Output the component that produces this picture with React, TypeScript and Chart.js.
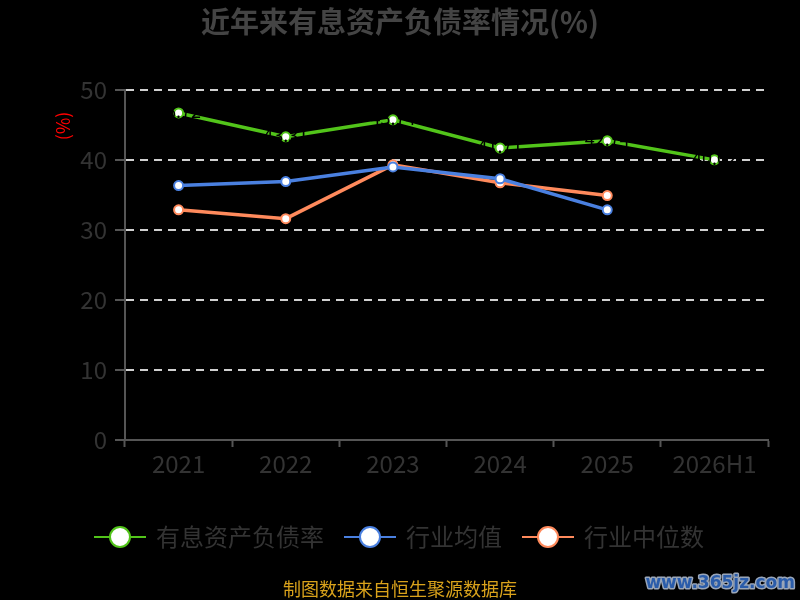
import React, { useEffect, useRef } from 'react';
import { Chart, registerables } from 'chart.js';

Chart.register(...registerables);

const FONT = '"Noto Sans CJK SC", "Microsoft YaHei", sans-serif';

const categories = ['2021', '2022', '2023', '2024', '2025', '2026H1'];
const debtRatio = [46.72, 43.31, 45.74, 41.71, 42.74, 40.02];
const industryMean = [36.35, 36.92, 39.01, 37.32, 32.88, null];
const industryMedian = [32.89, 31.62, 39.31, 36.74, 34.92, null];
const seriesNames = ['有息资产负债率', '行业均值', '行业中位数'];
const seriesColors = ['#52c41a', '#4a80e0', '#ff8a5c'];
const yMin = 0;
const yMax = 50;
const yStep = 10;
const titleText = '近年来有息资产负债率情况(%)';
const yUnitText = '(%)';
const footerText = '制图数据来自恒生聚源数据库';
const watermarkText = 'www.365jz.com';

function makeLegendIcon(color: string): HTMLCanvasElement {
  const c = document.createElement('canvas');
  c.width = 52;
  c.height = 26;
  const g = c.getContext('2d')!;
  g.strokeStyle = color;
  g.lineWidth = 2;
  g.beginPath();
  g.moveTo(0, 13);
  g.lineTo(52, 13);
  g.stroke();
  g.beginPath();
  g.arc(26, 13, 10, 0, Math.PI * 2);
  g.fillStyle = '#ffffff';
  g.fill();
  g.lineWidth = 2;
  g.stroke();
  return c;
}

const decorPlugin = {
  id: 'decor',
  beforeDraw(chart: any) {
    const { ctx, width, height } = chart;
    ctx.save();
    ctx.fillStyle = '#000000';
    ctx.fillRect(0, 0, width, height);
    ctx.restore();
  },
  afterDatasetsDraw(chart: any) {
    const { ctx } = chart;
    const meta = chart.getDatasetMeta(0);
    ctx.save();
    ctx.font = `18px ${FONT}`;
    ctx.fillStyle = '#000000';
    ctx.textAlign = 'center';
    ctx.textBaseline = 'middle';
    meta.data.forEach((pt: any, i: number) => {
      const v = debtRatio[i];
      if (v == null) return;
      ctx.fillText(v.toFixed(2), pt.x, pt.y - 2);
    });
    ctx.restore();
  },
  afterDraw(chart: any) {
    const { ctx } = chart;
    ctx.save();
    ctx.font = `bold 29px ${FONT}`;
    ctx.fillStyle = '#444444';
    ctx.textAlign = 'center';
    ctx.textBaseline = 'middle';
    ctx.fillText(titleText, 400, 22);
    ctx.save();
    ctx.translate(63, 126);
    ctx.rotate(-Math.PI / 2);
    ctx.font = `18px ${FONT}`;
    ctx.fillStyle = '#ff0000';
    ctx.fillText(yUnitText, 0, 0);
    ctx.restore();
    ctx.font = `18px ${FONT}`;
    ctx.fillStyle = '#d9a21b';
    ctx.fillText(footerText, 400, 589);
    ctx.font = `bold 17px "DejaVu Sans", sans-serif`;
    ctx.textAlign = 'right';
    ctx.lineJoin = 'round';
    ctx.lineWidth = 3;
    ctx.strokeStyle = '#9aa6b8';
    ctx.strokeText(watermarkText, 795, 584);
    ctx.fillStyle = '#2a5caa';
    ctx.fillText(watermarkText, 795, 584);
    ctx.restore();
  },
};

export default function App() {
  const canvasRef = useRef<HTMLCanvasElement | null>(null);

  useEffect(() => {
    document.body.style.margin = '0';
    document.body.style.background = '#000';
    const canvas = canvasRef.current;
    if (!canvas) return;
    const icons = seriesColors.map((c) => makeLegendIcon(c));
    const seriesData = [debtRatio, industryMean, industryMedian];

    const chart = new Chart(canvas, {
      type: 'line',
      data: {
        labels: categories,
        datasets: seriesData.map((d, i) => ({
          label: seriesNames[i],
          data: d,
          borderColor: seriesColors[i],
          backgroundColor: '#ffffff',
          borderWidth: 3.5,
          pointRadius: 4.5,
          pointHoverRadius: 4.5,
          pointBorderWidth: 2,
          pointBackgroundColor: '#ffffff',
          pointBorderColor: seriesColors[i],
          tension: 0,
          spanGaps: false,
          yAxisID: 'y',
        })),
      },
      options: {
        responsive: false,
        animation: false,
        devicePixelRatio: 1,
        layout: { padding: { top: 90, left: 0, right: 0, bottom: 41 } },
        plugins: {
          title: { display: false },
          tooltip: { enabled: false },
          legend: {
            display: true,
            position: 'bottom',
            labels: {
              usePointStyle: true,
              pointStyleWidth: 48,
              boxHeight: 24,
              padding: 22,
              color: '#333333',
              font: { size: 24, family: FONT },
              generateLabels: (ch: any) =>
                ch.data.datasets.map((ds: any, i: number) => ({
                  text: ds.label,
                  pointStyle: icons[i],
                  fillStyle: '#ffffff',
                  strokeStyle: seriesColors[i],
                  lineWidth: 0,
                  hidden: false,
                  datasetIndex: i,
                  fontColor: '#333333',
                })),
            },
          },
        },
        scales: {
          x: {
            type: 'category',
            offset: true,
            grid: {
              display: true,
              offset: true,
              drawOnChartArea: false,
              drawTicks: true,
              tickLength: 7,
              tickColor: '#555555',
              tickWidth: 2,
            },
            border: { display: true, color: '#555555', width: 2 },
            ticks: {
              color: '#333333',
              font: { size: 24, family: FONT },
              padding: 2,
              maxRotation: 0,
              autoSkip: false,
            },
            afterFit: (s: any) => {
              s.height = 63;
            },
          },
          y: {
            type: 'linear',
            position: 'left',
            min: yMin,
            max: yMax,
            ticks: {
              stepSize: yStep,
              color: '#333333',
              font: { size: 24, family: FONT },
              padding: 8,
            },
            grid: {
              color: (c: any) => (c.tick && c.tick.value === 0 ? 'rgba(0,0,0,0)' : '#d0d0d0'),
              lineWidth: 2,
              drawTicks: true,
              tickLength: 10,
              tickColor: '#555555',
              tickWidth: 2,
            },
            border: { display: true, color: '#555555', width: 2, dash: [8, 6] },
            afterFit: (s: any) => {
              s.width = 125;
            },
          },
          yR: {
            type: 'linear',
            position: 'right',
            display: true,
            grid: { display: false, drawTicks: false },
            border: { display: false },
            ticks: { display: false },
            afterFit: (s: any) => {
              s.width = 32;
            },
          },
        },
      } as any,
      plugins: [decorPlugin],
    });

    return () => {
      chart.destroy();
    };
  }, []);

  return (
    <div style={{ position: 'fixed', left: 0, top: 0, width: 800, height: 600, background: '#000' }}>
      <canvas ref={canvasRef} width={800} height={600} style={{ display: 'block', width: 800, height: 600 }} />
    </div>
  );
}
